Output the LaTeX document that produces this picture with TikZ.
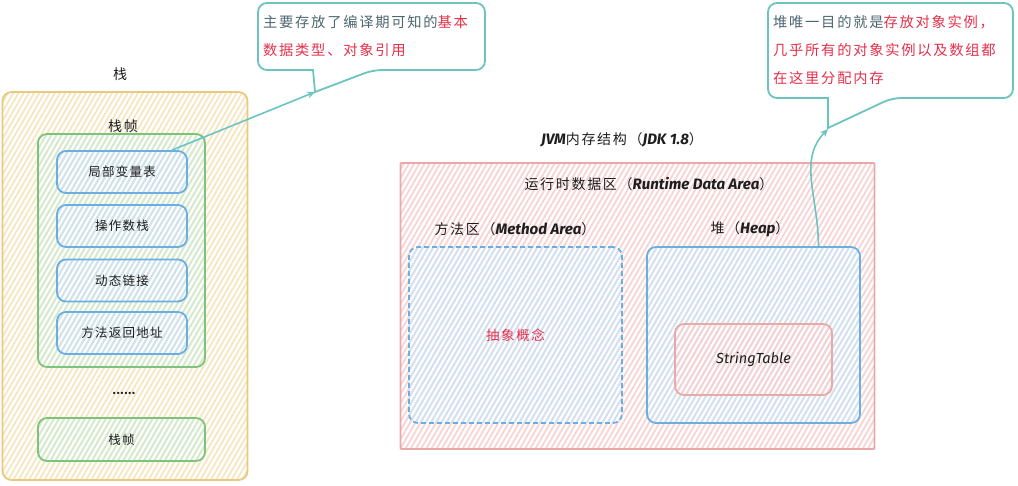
\documentclass[tikz,border=0pt]{standalone}
\usepackage{fontspec}
\setmainfont{Noto Sans CJK SC}
\newfontfamily\cjk[LetterSpace=10]{Noto Sans CJK SC}
\newfontfamily\cjkb[LetterSpace=12]{Noto Sans CJK SC}
\newfontfamily\lat[Scale=1.08]{Fira Sans}
\usetikzlibrary{patterns.meta,arrows.meta}
\definecolor{ylw}{HTML}{E8C97E}
\definecolor{ylwh}{HTML}{F6E6C0}
\definecolor{grn}{HTML}{7CC47A}
\definecolor{grnh}{HTML}{D2EBD0}
\definecolor{blu}{HTML}{6AAEE2}
\definecolor{bluh}{HTML}{D0E3F5}
\definecolor{rd}{HTML}{EBA8A8}
\definecolor{rdh}{HTML}{F7D3D3}
\definecolor{teal}{HTML}{6CC4C0}
\definecolor{redtxt}{HTML}{E5304B}
\definecolor{dtxt}{HTML}{4D6770}
\definecolor{btxt}{HTML}{1E1E1E}
\tikzset{
  hatch/.style={pattern={Lines[angle=60,distance=4.5pt,line width=1.8pt]}, pattern color=#1},
  boxbase/.style={rounded corners=9pt, line width=1.8pt, text=btxt, font=\cjk\fontsize{12.5}{14}\selectfont, inner sep=0pt},
  stackbox/.style={boxbase, draw=ylw, hatch=ylwh},
  framebox/.style={boxbase, draw=grn, hatch=grnh},
  partbox/.style={boxbase, draw=blu, hatch=bluh},
  areabox/.style={boxbase, draw=rd, hatch=rdh, rounded corners=1pt},
  lbl/.style={text=btxt, font=\cjkb\fontsize{14}{16}\selectfont, inner sep=0pt},
  ctext/.style={anchor=west, inner sep=0pt, text=dtxt, font=\cjkb\fontsize{14.3}{16}\selectfont},
  callout/.style={draw=teal, line width=1.8pt, fill=white},
  conn/.style={draw=teal, line width=1.6pt, -{Stealth[length=8pt,width=7pt]}},
}
\newcommand{\lt}[1]{{\lat\bfseries\itshape #1}}
\begin{document}
\begin{tikzpicture}[x=1pt,y=-1pt]
\useasboundingbox (0,0) rectangle (1018,485);
% ---- stack ----
\node[lbl] (stacklbl) at (120,74) {栈};
\node[stackbox, minimum width=245pt, minimum height=388pt] (stack) at (125,286) {};
\node[lbl] (framelbl) at (123,126) {栈帧};
\node[framebox, minimum width=167pt, minimum height=233pt] (frame) at (121.5,250.5) {};
\node[partbox, minimum width=130pt, minimum height=42pt] (lv) at (122,172) {局部变量表};
\node[partbox, minimum width=130pt, minimum height=42pt] (os) at (122,226) {操作数栈};
\node[partbox, minimum width=130pt, minimum height=42pt] (dl) at (122,280.5) {动态链接};
\node[partbox, minimum width=130pt, minimum height=42pt] (ra) at (122,333) {方法返回地址};
\node[lbl, font=\bfseries\fontsize{11}{12}\selectfont] (dots) at (124,393) {......};
\node[framebox, minimum width=167pt, minimum height=43pt] (frame2) at (121.5,439.5) {栈帧};
% ---- JVM ----
\node[lbl] (title) at (622,140) {\lt{JVM}内存结构（\lt{JDK 1.8}）};
\node[areabox, minimum width=474pt, minimum height=286pt] (rda) at (637.5,306) {};
\node[lbl] (rdalbl) at (649,184) {运行时数据区（\lt{Runtime Data Area}）};
\node[lbl] (malbl) at (515,229) {方法区（\lt{Method Area}）};
\node[lbl] (heaplbl) at (750,229) {堆（\lt{Heap}）};
\node[partbox, dashed, dash pattern=on 5pt off 3pt, minimum width=213pt, minimum height=176pt, text=redtxt, font=\cjkb\fontsize{13.5}{15}\selectfont] (ma) at (515.5,335) {抽象概念};
\node[partbox, minimum width=213pt, minimum height=176pt] (heap) at (753.5,335) {};
\node[boxbase, draw=rd, hatch=rdh, minimum width=157pt, minimum height=71pt, font=\lat\itshape\fontsize{13.5}{15}\selectfont] (st) at (753.5,359.5) {StringTable};
% ---- callout 1 ----
\draw[callout] (373,70) -- (315,92) -- (313,70) [rounded corners=9pt] -- (258,70) -- (258,3) -- (485,3) -- (485,70) -- cycle;
\coordinate (tip1) at (315,92);
\node[ctext] (c1a) at (263,22) {主要存放了编译期可知的\textcolor{redtxt}{基本}};
\node[ctext, text=redtxt] (c1b) at (263,50) {数据类型、对象引用};
% ---- callout 2 ----
\draw[callout] (892,98) -- (828,128) -- (828,98) [rounded corners=9pt] -- (768,98) -- (768,3) -- (1013,3) -- (1013,98) -- cycle;
\coordinate (tip2) at (828,129);
\node[ctext] (c2a) at (773,22) {堆唯一目的就是\textcolor{redtxt}{存放对象实例，}};
\node[ctext, text=redtxt] (c2b) at (773,50) {几乎所有的对象实例以及数组都};
\node[ctext, text=redtxt] (c2c) at (773,78) {在这里分配内存};
% ---- connectors ----
\draw[conn] ([xshift=50pt]lv.north) -- (tip1);
\draw[conn] ([xshift=65pt]heap.north) .. controls (818,195) and (798,160) .. (tip2);
\end{tikzpicture}
\end{document}
